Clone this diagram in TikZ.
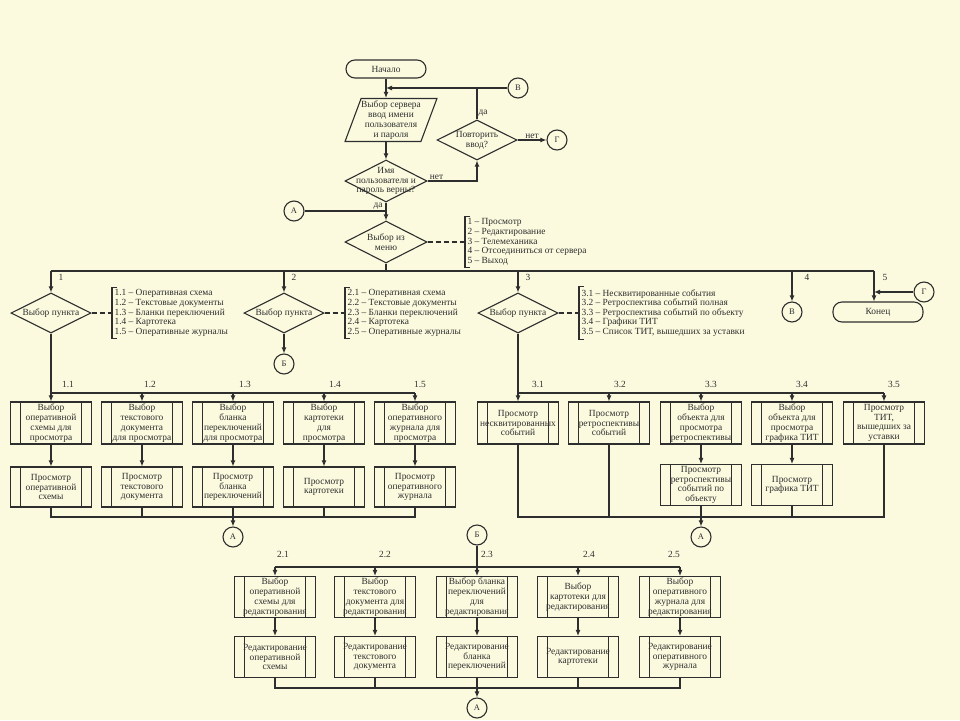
\documentclass[tikz,border=0pt]{standalone}
\usepackage{fontspec}
\setmainfont{Liberation Serif}
\usepackage{tikz}
\usetikzlibrary{arrows.meta,positioning,shapes.geometric}
\definecolor{flowpaper}{HTML}{FBFADF}
\definecolor{flowink}{HTML}{2E2E2E}
\tikzset{
  flow-text/.style={align=center, font=\fontsize{9.4}{9.8}\selectfont, inner sep=0pt},
  flow-term/.style={draw, rectangle, rounded corners=9pt, minimum width=80pt, minimum height=18pt,
    inner sep=0pt, font=\fontsize{9.4}{9.8}\selectfont},
  flow-io/.style={draw, trapezium, trapezium left angle=75, trapezium right angle=105,
    trapezium stretches=true, minimum width=92pt, minimum height=43pt, inner sep=4pt},
  flow-decision/.style={draw, diamond, minimum width=82pt, minimum height=42pt, inner sep=3pt},
  flow-proc/.style={draw, rectangle, minimum width=81pt, minimum height=42pt, inner sep=0pt,
    align=center, font=\fontsize{9.4}{9.8}\selectfont,
    path picture={\draw ([xshift=10pt]path picture bounding box.north west) -- ([xshift=10pt]path picture bounding box.south west)
      ([xshift=-10pt]path picture bounding box.north east) -- ([xshift=-10pt]path picture bounding box.south east);}},
  flow-link/.style={draw, circle, minimum size=20pt, inner sep=0pt, font=\fontsize{8.5}{8.5}\selectfont},
  flow-note/.style={align=left, inner sep=2pt, font=\fontsize{9.4}{9.6}\selectfont},
  flow-num/.style={inner sep=1pt, font=\fontsize{9.4}{9.6}\selectfont}
}
\begin{document}
\begin{tikzpicture}[>={Latex[length=6pt,width=5pt]}, x=1pt, y=-1pt, line width=1.1pt, color=flowink]
  \fill[flowpaper] (0,0) rectangle (960,720);
  \node[flow-term] (start) at (386,69) {Начало};
  \node[flow-io, label={[flow-text]center:Выбор сервера\\ввод имени\\пользователя\\и пароля}] (login-in) at (391,120) {};
  \node[flow-decision, label={[flow-text]center:Имя\\пользователя и\\пароль верны?}] (login-ok) at (386,181) {};
  \node[flow-decision, minimum width=80pt, minimum height=40pt, label={[flow-text]center:Повторить\\ввод?}] (retry) at (477,140) {};
  \node[flow-link] (link-v1) at (518,88) {В};
  \node[flow-link] (link-g1) at (557,140) {Г};
  \node[flow-link] (link-a1) at (294,211) {А};
  \node[flow-decision, label={[flow-text]center:Выбор из\\меню}] (menu) at (386,242) {};
  \node[flow-note, anchor=west] (menu-note) at (465,242) {1 – Просмотр\\2 – Редактирование\\3 – Телемеханика\\4 – Отсоединиться от сервера\\5 – Выход};
  \draw[->] (start) -- (start |- login-in.north);
  \draw[->] (link-v1) -- (start |- link-v1);
  \draw[->] (login-ok |- login-in.south) -- (login-ok);
  \draw[->] (login-ok) -- node[pos=0.18, above, flow-num] (no-login) {нет} (login-ok -| retry) -- (retry);
  \draw (retry) -- node[pos=0.2, right, flow-num] (yes-retry) {да} (retry |- link-v1);
  \draw[->] (retry) -- node[above, flow-num] (no-retry) {нет} (link-g1);
  \draw[->] (login-ok) -- node[pos=0.22, left, flow-num, xshift=-2pt] (yes-login) {да} (menu);
  \draw (link-a1) -- (link-a1 -| menu);
  \draw[dash pattern=on 5pt off 3pt] (menu) -- (menu-note);
  \draw ([xshift=5pt]menu-note.north west) -- (menu-note.north west) -- (menu-note.south west) -- ([xshift=5pt]menu-note.south west);
  \coordinate (bus-l) at (51,271);
  \coordinate (bus-r) at (874,271);
  \node[flow-decision, minimum width=80pt, minimum height=40pt, label={[flow-text]center:Выбор пункта}] (pick1) at (51,313) {};
  \node[flow-decision, minimum width=80pt, minimum height=40pt, label={[flow-text]center:Выбор пункта}] (pick2) at (284,313) {};
  \node[flow-decision, minimum width=80pt, minimum height=40pt, label={[flow-text]center:Выбор пункта}] (pick3) at (518,313) {};
  \node[flow-note, anchor=west] (pick1-note) at (112,313) {1.1 – Оперативная схема\\1.2 – Текстовые документы\\1.3 – Бланки переключений\\1.4 – Картотека\\1.5 – Оперативные журналы};
  \node[flow-note, anchor=west] (pick2-note) at (345,313) {2.1 – Оперативная схема\\2.2 – Текстовые документы\\2.3 – Бланки переключений\\2.4 – Картотека\\2.5 – Оперативные журналы};
  \node[flow-note, anchor=west] (pick3-note) at (579,313) {3.1 – Несквитированные события\\3.2 – Ретроспектива событий полная\\3.3 – Ретроспектива событий по объекту\\3.4 – Графики ТИТ\\3.5 – Список ТИТ, вышедших за уставки};
  \node[flow-link] (link-b1) at (284,364) {Б};
  \node[flow-link] (link-v2) at (792,312) {В};
  \node[flow-term, minimum width=90pt, minimum height=20pt] (finish) at (878,312) {Конец};
  \node[flow-link] (link-g2) at (924,292) {Г};
  \node[flow-num] (num1) at (61,277) {1};
  \node[flow-num] (num2) at (294,277) {2};
  \node[flow-num] (num3) at (528,277) {3};
  \node[flow-num] (num4) at (807,277) {4};
  \node[flow-num] (num5) at (885,277) {5};
  \draw (menu) -- (menu |- bus-l);
  \draw (bus-l) -- (bus-r);
  \draw[->] (bus-l) -- (pick1);
  \draw[->] (pick2 |- bus-l) -- (pick2);
  \draw[->] (pick3 |- bus-l) -- (pick3);
  \draw[->] (link-v2 |- bus-l) -- (link-v2);
  \draw[->] (bus-r) -- (bus-r |- finish.north);
  \draw[->] (link-g2) -- (bus-r |- link-g2);
  \draw[->] (pick2) -- (link-b1);
  \draw[dash pattern=on 5pt off 3pt] (pick1) -- (pick1-note);
  \draw[dash pattern=on 5pt off 3pt] (pick2) -- (pick2-note);
  \draw[dash pattern=on 5pt off 3pt] (pick3) -- (pick3-note);
  \draw ([xshift=5pt]pick1-note.north west) -- (pick1-note.north west) -- (pick1-note.south west) -- ([xshift=5pt]pick1-note.south west);
  \draw ([xshift=5pt]pick2-note.north west) -- (pick2-note.north west) -- (pick2-note.south west) -- ([xshift=5pt]pick2-note.south west);
  \draw ([xshift=5pt]pick3-note.north west) -- (pick3-note.north west) -- (pick3-note.south west) -- ([xshift=5pt]pick3-note.south west);
  \coordinate (row1-top) at (51,393);
  \coordinate (row1-bot) at (233,517);
  \node[flow-proc] (sel11) at (51,423) {Выбор\\оперативной\\схемы для\\просмотра};
  \node[flow-proc] (sel12) at (142,423) {Выбор\\текстового\\документа\\для просмотра};
  \node[flow-proc] (sel13) at (233,423) {Выбор\\бланка\\переключений\\для просмотра};
  \node[flow-proc] (sel14) at (324,423) {Выбор\\картотеки\\для\\просмотра};
  \node[flow-proc] (sel15) at (415,423) {Выбор\\оперативного\\журнала для\\просмотра};
  \node[flow-proc, minimum height=40pt] (show11) at (51,487) {Просмотр\\оперативной\\схемы};
  \node[flow-proc, minimum height=40pt] (show12) at (142,487) {Просмотр\\текстового\\документа};
  \node[flow-proc, minimum height=40pt] (show13) at (233,487) {Просмотр\\бланка\\переключений};
  \node[flow-proc, minimum height=40pt] (show14) at (324,487) {Просмотр\\картотеки};
  \node[flow-proc, minimum height=40pt] (show15) at (415,487) {Просмотр\\оперативного\\журнала};
  \node[flow-link] (link-a2) at (233,537) {А};
  \node[flow-num] (num11) at (68,384) {1.1};
  \node[flow-num] (num12) at (150,384) {1.2};
  \node[flow-num] (num13) at (245,384) {1.3};
  \node[flow-num] (num14) at (335,384) {1.4};
  \node[flow-num] (num15) at (420,384) {1.5};
  \draw (pick1) -- (row1-top);
  \draw (row1-top) -- (sel15 |- row1-top);
  \draw[->] (row1-top) -- (sel11);
  \draw[->] (sel12 |- row1-top) -- (sel12);
  \draw[->] (sel13 |- row1-top) -- (sel13);
  \draw[->] (sel14 |- row1-top) -- (sel14);
  \draw[->] (sel15 |- row1-top) -- (sel15);
  \draw[->] (sel11) -- (show11);
  \draw[->] (sel12) -- (show12);
  \draw[->] (sel13) -- (show13);
  \draw[->] (sel14) -- (show14);
  \draw[->] (sel15) -- (show15);
  \draw (show11) -- (show11 |- row1-bot) -- (show15 |- row1-bot) -- (show15);
  \draw (show12) -- (show12 |- row1-bot);
  \draw (show14) -- (show14 |- row1-bot);
  \draw[->] (show13) -- (link-a2);
  \coordinate (row3-top) at (518,393);
  \coordinate (row3-bot) at (701,517);
  \node[flow-proc] (sel31) at (518,423) {Просмотр\\несквитированных\\событий};
  \node[flow-proc] (sel32) at (609,423) {Просмотр\\ретроспективы\\событий};
  \node[flow-proc] (sel33) at (701,423) {Выбор\\объекта для\\просмотра\\ретроспективы};
  \node[flow-proc] (sel34) at (792,423) {Выбор\\объекта для\\просмотра\\графика ТИТ};
  \node[flow-proc] (sel35) at (884,423) {Просмотр\\ТИТ,\\вышедших за\\уставки};
  \node[flow-proc, minimum height=41pt] (show33) at (701,485) {Просмотр\\ретроспективы\\событий по\\объекту};
  \node[flow-proc, minimum height=41pt] (show34) at (792,485) {Просмотр\\графика ТИТ};
  \node[flow-link] (link-a3) at (701,537) {А};
  \node[flow-num] (num31) at (538,384) {3.1};
  \node[flow-num] (num32) at (620,384) {3.2};
  \node[flow-num] (num33) at (711,384) {3.3};
  \node[flow-num] (num34) at (802,384) {3.4};
  \node[flow-num] (num35) at (894,384) {3.5};
  \draw (pick3) -- (row3-top);
  \draw (row3-top) -- (sel35 |- row3-top);
  \draw[->] (row3-top) -- (sel31);
  \draw[->] (sel32 |- row3-top) -- (sel32);
  \draw[->] (sel33 |- row3-top) -- (sel33);
  \draw[->] (sel34 |- row3-top) -- (sel34);
  \draw[->] (sel35 |- row3-top) -- (sel35);
  \draw[->] (sel33) -- (show33);
  \draw[->] (sel34) -- (show34);
  \draw (sel31) -- (sel31 |- row3-bot) -- (sel35 |- row3-bot) -- (sel35);
  \draw (sel32) -- (sel32 |- row3-bot);
  \draw (show34) -- (show34 |- row3-bot);
  \draw[->] (show33) -- (link-a3);
  \coordinate (row2-top) at (477,567);
  \coordinate (row2-bot) at (477,688);
  \node[flow-link] (link-b2) at (477,535) {Б};
  \node[flow-proc, minimum height=41pt] (sel21) at (275,597) {Выбор\\оперативной\\схемы для\\редактирования};
  \node[flow-proc, minimum height=41pt] (sel22) at (375,597) {Выбор\\текстового\\документа для\\редактирования};
  \node[flow-proc, minimum height=41pt] (sel23) at (477,597) {Выбор бланка\\переключений\\для\\редактирования};
  \node[flow-proc, minimum height=41pt] (sel24) at (578,597) {Выбор\\картотеки для\\редактирования};
  \node[flow-proc, minimum height=41pt] (sel25) at (680,597) {Выбор\\оперативного\\журнала для\\редактирования};
  \node[flow-proc, minimum height=41pt] (edit21) at (275,657) {Редактирование\\оперативной\\схемы};
  \node[flow-proc, minimum height=41pt] (edit22) at (375,657) {Редактирование\\текстового\\документа};
  \node[flow-proc, minimum height=41pt] (edit23) at (477,657) {Редактирование\\бланка\\переключений};
  \node[flow-proc, minimum height=41pt] (edit24) at (578,657) {Редактирование\\картотеки};
  \node[flow-proc, minimum height=41pt] (edit25) at (680,657) {Редактирование\\оперативного\\журнала};
  \node[flow-link] (link-a4) at (477,708) {А};
  \node[flow-num] (num21) at (283,554) {2.1};
  \node[flow-num] (num22) at (385,554) {2.2};
  \node[flow-num] (num23) at (487,554) {2.3};
  \node[flow-num] (num24) at (589,554) {2.4};
  \node[flow-num] (num25) at (674,554) {2.5};
  \draw (sel21 |- row2-top) -- (sel25 |- row2-top);
  \draw[->] (link-b2) -- (sel23);
  \draw[->] (sel21 |- row2-top) -- (sel21);
  \draw[->] (sel22 |- row2-top) -- (sel22);
  \draw[->] (sel24 |- row2-top) -- (sel24);
  \draw[->] (sel25 |- row2-top) -- (sel25);
  \draw[->] (sel21) -- (edit21);
  \draw[->] (sel22) -- (edit22);
  \draw[->] (sel23) -- (edit23);
  \draw[->] (sel24) -- (edit24);
  \draw[->] (sel25) -- (edit25);
  \draw (edit21) -- (edit21 |- row2-bot) -- (edit25 |- row2-bot) -- (edit25);
  \draw (edit22) -- (edit22 |- row2-bot);
  \draw (edit24) -- (edit24 |- row2-bot);
  \draw[->] (edit23) -- (link-a4);
\end{tikzpicture}
\end{document}
